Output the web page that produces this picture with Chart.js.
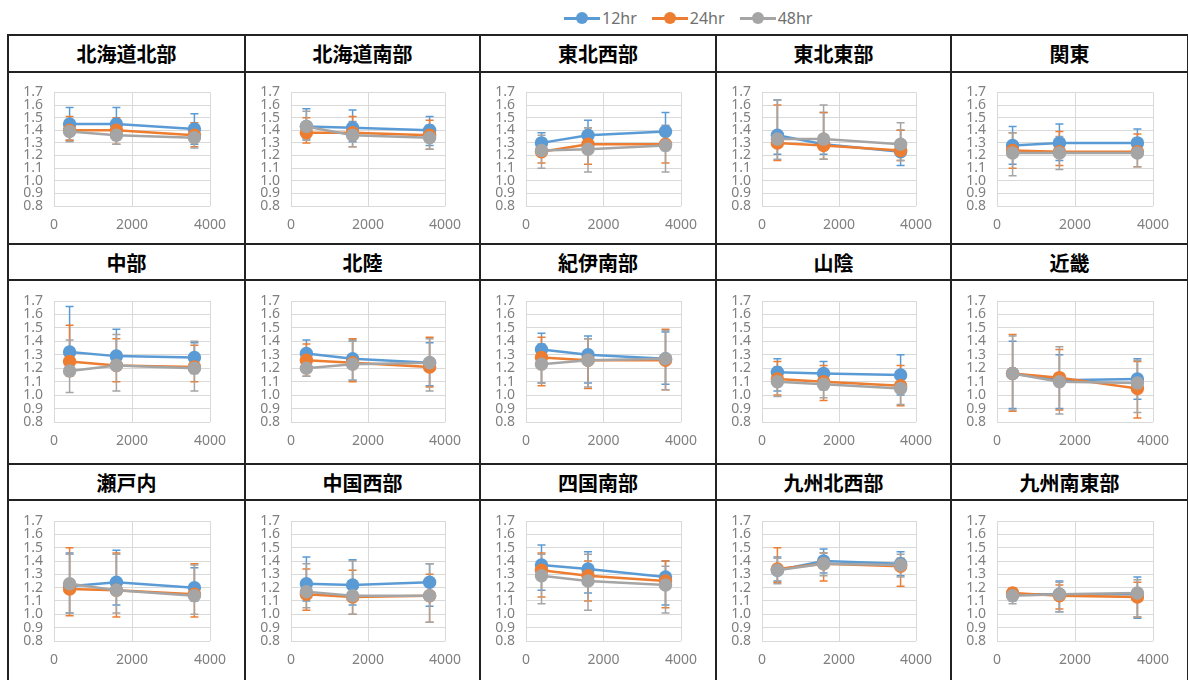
<!DOCTYPE html>
<html>
<head>
<meta charset="utf-8">
<script src="https://cdn.jsdelivr.net/npm/chart.js@4/dist/chart.umd.min.js"></script>
<style>
    body { margin: 0; background: #fff; width: 1188px; height: 680px; overflow: hidden; position: relative; font-family: "Noto Sans", sans-serif; }
    #legend { position: absolute; top: 7px; left: 564px; display: flex; gap: 15px; align-items: center; }
    .lg-item { display: flex; align-items: center; font-size: 16px; color: #707070; }
    .lg-mark { position: relative; width: 36px; height: 20px; margin-right: 2px; }
    .lg-mark .ln { position: absolute; left: 0; right: 0; top: 9px; height: 3px; }
    .lg-mark .dot { position: absolute; left: 12px; top: 4px; width: 12px; height: 12px; border-radius: 50%; }
    #grid {
        position: absolute; left: 7px; top: 34px; padding: 2px; background: #222;
        display: grid; gap: 2px;
        grid-template-columns: 235px 233px 234px 233px 235px;
        grid-template-rows: 35px 170px 34px 182px 34px 180px;
    }
    .title { background: #fff; display: flex; align-items: center; justify-content: center;
        font-family: "Noto Sans CJK JP", sans-serif; font-weight: bold; font-size: 20px; color: #000; }
    .cell { background: #fff; position: relative; }
    .cell canvas { position: absolute; left: 0; top: 0; }
</style>
</head>
<body>
<div id="legend"></div>
<div id="grid"></div>
<script>
const regions = ['北海道北部', '北海道南部', '東北西部', '東北東部', '関東',
    '中部', '北陸', '紀伊南部', '山陰', '近畿',
    '瀬戸内', '中国西部', '四国南部', '九州北西部', '九州南東部'];
const seriesNames = ['12hr', '24hr', '48hr'];
const seriesColors = ['#5b9bd5', '#ed7d31', '#a5a5a5'];
const xValues = [400, 1600, 3600];
const xTicks = [0, 2000, 4000];
const yTicks = [0.8, 0.9, 1.0, 1.1, 1.2, 1.3, 1.4, 1.5, 1.6, 1.7];

// mean values per region (at x = 400, 1600, 3600)
const mean12 = [
    [1.45, 1.45, 1.41], [1.43, 1.42, 1.40], [1.30, 1.36, 1.39], [1.36, 1.29, 1.23], [1.28, 1.30, 1.30],
    [1.32, 1.29, 1.28], [1.31, 1.27, 1.24], [1.34, 1.30, 1.27], [1.17, 1.16, 1.15], [1.16, 1.11, 1.12],
    [1.21, 1.24, 1.20], [1.23, 1.22, 1.24], [1.37, 1.34, 1.28], [1.33, 1.40, 1.38], [1.15, 1.15, 1.15]
];
const mean24 = [
    [1.40, 1.40, 1.36], [1.38, 1.38, 1.36], [1.23, 1.29, 1.29], [1.30, 1.28, 1.24], [1.24, 1.23, 1.23],
    [1.25, 1.22, 1.21], [1.26, 1.24, 1.21], [1.28, 1.26, 1.26], [1.12, 1.10, 1.07], [1.16, 1.13, 1.05],
    [1.19, 1.18, 1.15], [1.15, 1.13, 1.14], [1.33, 1.29, 1.25], [1.34, 1.38, 1.36], [1.16, 1.14, 1.13]
];
const mean48 = [
    [1.39, 1.36, 1.34], [1.43, 1.36, 1.34], [1.24, 1.25, 1.28], [1.33, 1.33, 1.29], [1.22, 1.22, 1.22],
    [1.18, 1.22, 1.20], [1.20, 1.23, 1.24], [1.23, 1.26, 1.27], [1.10, 1.08, 1.05], [1.16, 1.10, 1.09],
    [1.23, 1.18, 1.14], [1.17, 1.14, 1.14], [1.29, 1.25, 1.22], [1.33, 1.38, 1.37], [1.14, 1.15, 1.16]
];

// error bar ends (lower / upper) per region
const lo12 = [
    [1.32, 1.32, 1.29], [1.33, 1.31, 1.28], [1.22, 1.24, 1.24], [1.21, 1.21, 1.12], [1.13, 1.16, 1.19],
    [1.17, 1.19, 1.16], [1.21, 1.11, 1.07], [1.09, 1.09, 1.08], [1.03, 1.04, 1.00], [0.90, 0.90, 0.97],
    [1.01, 1.07, 1.10], [1.10, 1.07, 1.06], [1.18, 1.16, 1.07], [1.25, 1.31, 1.29], [1.10, 1.02, 0.97]
];
const hi12 = [
    [1.58, 1.58, 1.53], [1.57, 1.56, 1.51], [1.38, 1.48, 1.54], [1.64, 1.54, 1.40], [1.43, 1.45, 1.41],
    [1.66, 1.49, 1.39], [1.41, 1.41, 1.39], [1.46, 1.44, 1.47], [1.27, 1.25, 1.30], [1.40, 1.30, 1.27],
    [1.46, 1.48, 1.35], [1.43, 1.41, 1.38], [1.52, 1.47, 1.40], [1.43, 1.49, 1.47], [1.18, 1.25, 1.28]
];
const lo24 = [
    [1.32, 1.29, 1.27], [1.30, 1.27, 1.25], [1.14, 1.13, 1.14], [1.16, 1.17, 1.16], [1.10, 1.12, 1.11],
    [1.14, 1.10, 1.10], [1.14, 1.10, 1.06], [1.07, 1.05, 1.04], [1.00, 0.96, 0.92], [0.88, 0.89, 0.83],
    [0.99, 0.98, 0.98], [1.03, 1.00, 0.94], [1.13, 1.10, 1.05], [1.24, 1.25, 1.21], [1.13, 1.04, 0.98]
];
const hi24 = [
    [1.51, 1.50, 1.46], [1.50, 1.51, 1.48], [1.32, 1.42, 1.43], [1.60, 1.54, 1.40], [1.38, 1.39, 1.37],
    [1.52, 1.42, 1.37], [1.38, 1.42, 1.43], [1.43, 1.42, 1.49], [1.25, 1.22, 1.22], [1.45, 1.34, 1.25],
    [1.50, 1.46, 1.38], [1.34, 1.33, 1.30], [1.46, 1.40, 1.40], [1.50, 1.46, 1.42], [1.20, 1.22, 1.24]
];
const lo48 = [
    [1.31, 1.29, 1.26], [1.32, 1.27, 1.25], [1.10, 1.07, 1.07], [1.17, 1.17, 1.16], [1.04, 1.09, 1.11],
    [1.02, 1.03, 1.03], [1.14, 1.11, 1.03], [1.09, 1.06, 1.04], [0.99, 0.98, 0.93], [0.89, 0.86, 0.87],
    [1.01, 1.01, 1.00], [1.05, 1.00, 0.94], [1.08, 1.03, 1.01], [1.23, 1.29, 1.28], [1.08, 1.02, 0.98]
];
const hi48 = [
    [1.46, 1.44, 1.41], [1.55, 1.47, 1.44], [1.36, 1.42, 1.44], [1.64, 1.60, 1.46], [1.38, 1.35, 1.33],
    [1.41, 1.45, 1.40], [1.27, 1.40, 1.42], [1.38, 1.42, 1.48], [1.21, 1.19, 1.18], [1.44, 1.36, 1.26],
    [1.45, 1.45, 1.37], [1.38, 1.40, 1.38], [1.45, 1.45, 1.36], [1.42, 1.46, 1.45], [1.19, 1.24, 1.26]
];

const rowHeights = [170, 182, 180];
const rowTopPad = [18, 20, 20];
const rowBottomPad = [1, 5, 4];
const colWidths = [235, 233, 234, 233, 235];

// legend
const legend = document.getElementById('legend');
seriesNames.forEach((name, i) => {
    legend.insertAdjacentHTML('beforeend',
        `<div class="lg-item"><div class="lg-mark"><div class="ln" style="background:${seriesColors[i]}"></div>` +
        `<div class="dot" style="background:${seriesColors[i]}"></div></div>${name}</div>`);
});

// error bars drawn behind the lines
const errorBars = {
    id: 'errorBars',
    beforeDatasetsDraw(chart) {
        const { ctx } = chart;
        const yScale = chart.scales.y;
        chart.data.datasets.forEach((ds, i) => {
            const meta = chart.getDatasetMeta(i);
            ctx.save();
            ctx.strokeStyle = ds.borderColor;
            ctx.lineWidth = 1.5;
            meta.data.forEach((pt, j) => {
                const top = yScale.getPixelForValue(ds.hi[j]);
                const bot = yScale.getPixelForValue(ds.lo[j]);
                ctx.beginPath();
                ctx.moveTo(pt.x, top); ctx.lineTo(pt.x, bot);
                ctx.moveTo(pt.x - 4, top); ctx.lineTo(pt.x + 4, top);
                ctx.moveTo(pt.x - 4, bot); ctx.lineTo(pt.x + 4, bot);
                ctx.stroke();
            });
            ctx.restore();
        });
    }
};

const grid = document.getElementById('grid');
const means = [mean12, mean24, mean48];
const lows = [lo12, lo24, lo48];
const highs = [hi12, hi24, hi48];

regions.forEach((name, r) => {
    const row = Math.floor(r / 5);
    const col = r % 5;

    const title = document.createElement('div');
    title.className = 'title';
    title.style.gridRow = String(row * 2 + 1);
    title.style.gridColumn = String(col + 1);
    title.textContent = name;
    grid.appendChild(title);

    const cell = document.createElement('div');
    cell.className = 'cell';
    cell.style.gridRow = String(row * 2 + 2);
    cell.style.gridColumn = String(col + 1);
    const canvas = document.createElement('canvas');
    canvas.width = colWidths[col];
    canvas.height = rowHeights[row];
    cell.appendChild(canvas);
    grid.appendChild(cell);

    new Chart(canvas.getContext('2d'), {
        type: 'line',
        data: {
            datasets: seriesNames.map((s, i) => ({
                label: s,
                data: xValues.map((x, j) => ({ x: x, y: means[i][r][j] })),
                lo: lows[i][r],
                hi: highs[i][r],
                borderColor: seriesColors[i],
                backgroundColor: seriesColors[i],
                borderWidth: 2.5,
                pointRadius: 5.5,
                pointHoverRadius: 5.5,
                tension: 0,
                order: 3 - i
            }))
        },
        plugins: [errorBars],
        options: {
            responsive: false,
            animation: false,
            events: [],
            layout: { padding: { left: 9, right: 34, top: rowTopPad[row], bottom: rowBottomPad[row] } },
            plugins: { legend: { display: false }, tooltip: { enabled: false } },
            scales: {
                x: {
                    type: 'linear', min: 0, max: 4000,
                    afterBuildTicks: s => { s.ticks = xTicks.map(v => ({ value: v })); },
                    afterFit: s => { s.height = 36; },
                    grid: { color: '#d9d9d9', drawTicks: false },
                    border: { display: false },
                    ticks: { autoSkip: false, padding: 11, color: '#808080', font: { family: 'Noto Sans', size: 14 },
                        maxRotation: 0, callback: v => String(v) }
                },
                y: {
                    min: 0.8, max: 1.7,
                    afterBuildTicks: s => { s.ticks = yTicks.map(v => ({ value: v })); },
                    afterFit: s => { s.width = 36; },
                    grid: { color: '#d9d9d9', drawTicks: false },
                    border: { display: false },
                    ticks: { autoSkip: false, padding: 11, color: '#808080', font: { family: 'Noto Sans', size: 14 },
                        callback: v => Number(v).toFixed(1) }
                }
            }
        }
    });
});
</script>
</body>
</html>
